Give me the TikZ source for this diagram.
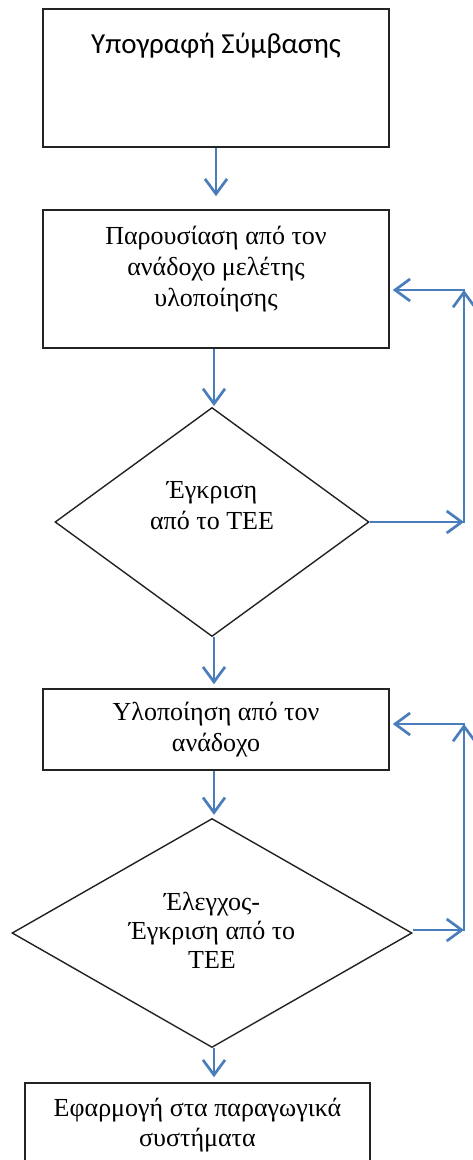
\documentclass[tikz,border=0pt]{standalone}
\usepackage{fontspec}
\setmainfont{Liberation Serif}
\newfontfamily\calibfont{Carlito}
\usetikzlibrary{shapes.geometric,arrows.meta}
\definecolor{flowblue}{RGB}{74,126,187}
\definecolor{edgegray}{RGB}{35,35,35}
\tikzset{
  box/.style={draw=edgegray, line width=1.6pt, rectangle, inner sep=0pt, anchor=center},
  decision/.style={draw=edgegray, line width=1.4pt, diamond, inner sep=0pt, anchor=center},
  txt/.style={align=center, font=\fontsize{26}{31}\selectfont, inner sep=0pt},
  flow/.style={draw=flowblue, line width=2.7pt,
    -{Straight Barb[length=15pt,width=22pt,line width=2.7pt]}}
}
\begin{document}
\begin{tikzpicture}[x=1pt,y=-1pt]
\useasboundingbox (0,0) rectangle (473,1160);
\fill[white] (0,0) rectangle (473,1160);
\begin{scope}
\clip (0,0) rectangle (473,1160);
% boxes
\node[box, minimum width=346pt, minimum height=138pt] (b1) at (216,78) {};
\node[txt, font=\calibfont\fontsize{29}{34}\selectfont] (t1) at (216,46) {Υπογραφή Σύμβασης};
\node[box, minimum width=346pt, minimum height=138pt] (b2) at (216,279) {};
\node[txt] (t2) at (216,269) {Παρουσίαση από τον\\ανάδοχο μελέτης\\υλοποίησης};
\node[decision, minimum width=314pt, minimum height=229pt] (d1) at (212,522) {};
\node[txt] (t3) at (212,506) {Έγκριση\\από το ΤΕΕ};
\node[box, minimum width=346pt, minimum height=81pt, txt] (b3) at (216,729.5) {Υλοποίηση από τον\\ανάδοχο};
\node[decision, minimum width=400pt, minimum height=229pt] (d2) at (212,933) {};
\node[txt, font=\fontsize{26}{29}\selectfont] (t4) at (212,930) {Έλεγχος-\\Έγκριση από το\\ΤΕΕ};
\node[box, minimum width=345pt, minimum height=130pt] (b4) at (197.5,1148) {};
\node[txt, font=\fontsize{26}{30}\selectfont] (t5) at (197.5,1125) {Εφαρμογή στα παραγωγικά\\συστήματα};
% feedback coordinates
\coordinate (r1) at (464,522);
\coordinate (u1) at (464,290);
\coordinate (r2) at (464,930);
\coordinate (u2) at (464,724);
% main flow
\draw[flow, shorten >=13pt] (b1.south) -- (b2.north);
\draw[flow, shorten >=2pt] (b2.south -| 214,0) -- (214,408);
\draw[flow, shorten >=4pt] (d1.south -| 214,0) -- (b3.north -| 214,0);
\draw[flow, shorten >=3pt] (b3.south -| 214,0) -- (d2.north -| 214,0);
\draw[flow, shorten >=5pt] (d2.south -| 214,0) -- (b4.north -| 214,0);
% feedback loop 1
\draw[flow] (d1.east) -- (r1);
\draw[flow, shorten <=-1.3pt] (r1) -- (u1);
\draw[flow, shorten >=3pt, shorten <=-1.3pt] (u1) -- (u1 -| b2.east);
% feedback loop 2
\draw[flow] (d2.east |- r2) -- (r2);
\draw[flow, shorten <=-1.3pt] (r2) -- (u2);
\draw[flow, shorten >=3pt, shorten <=-1.3pt] (u2) -- (u2 -| b3.east);
\end{scope}
\end{tikzpicture}
\end{document}
